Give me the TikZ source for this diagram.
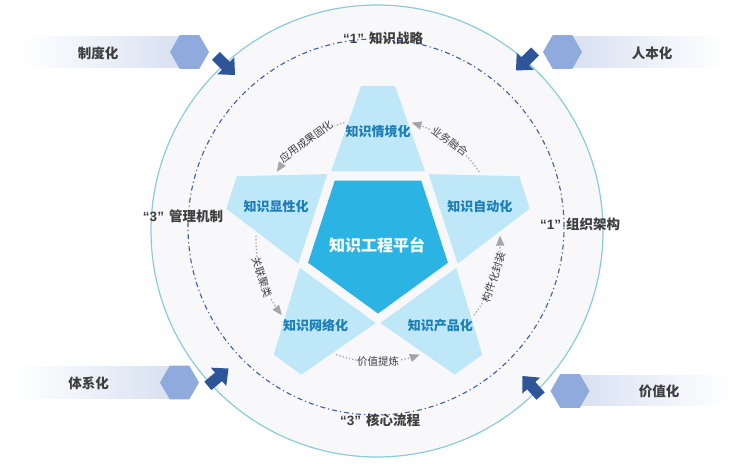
\documentclass[tikz,border=0pt]{standalone}
\usepackage{fontspec}
\setmainfont{Noto Sans CJK SC}
\newfontfamily\quotefont{Liberation Sans}
\usepackage{tikz}
\usetikzlibrary{arrows,calc}
\definecolor{ringteal}{HTML}{8BCCD8}
\definecolor{discbg}{HTML}{F8F8FA}
\definecolor{ringblue}{HTML}{3D5EAA}
\definecolor{armblue}{HTML}{BEE7F7}
\definecolor{coreblue}{HTML}{2BB3E3}
\definecolor{armtext}{HTML}{1D7EB5}
\definecolor{darktext}{HTML}{3F3F3F}
\definecolor{flowgray}{HTML}{A6A6A6}
\definecolor{hexblue}{HTML}{8FAADC}
\definecolor{bandblue}{HTML}{D6DFF1}
\definecolor{pushblue}{HTML}{2E5597}
\newcommand{\qn}[1]{{\quotefont “#1”}\hspace{5pt}}

\begin{document}
\begin{tikzpicture}[x=1pt,y=1pt,
     armlabel/.style={text=armtext,font=\fontsize{13}{14}\selectfont\bfseries},
     ringlabel/.style={text=darktext,font=\fontsize{13.5}{14}\selectfont\bfseries},
     sidelabel/.style={text=darktext,font=\fontsize{13.5}{14}\selectfont\bfseries},
     flowlabel/.style={text=darktext,font=\fontsize{10.5}{11}\selectfont,fill=discbg,inner sep=0.5pt},
     flow/.style={flowgray,line width=1.3pt,dotted,-triangle 45},
     hexa/.style={fill=hexblue},
     push/.style={fill=pushblue}]
     \useasboundingbox (0,0) rectangle (749,463);
     \coordinate (O) at (377,232);
     \coordinate (S) at (378,223);
     % outer disc and dash-dot ring
     \draw[ringteal,line width=1.2pt,fill=discbg] (O) circle (226);
     \draw[ringblue,line width=1.1pt,dash pattern=on 5pt off 3pt on 1.2pt off 3pt] (376,236) circle (188);
     \node[ringlabel] (zl) at (383,424.5) {\qn{1}知识战略};
     \node[ringlabel] (hx) at (380,42.5) {\qn{3}核心流程};
     \node[ringlabel] (gl) at (183,246.5) {\qn{3}管理机制};
     \node[ringlabel] (zz) at (580,239) {\qn{1}组织架构};
     % side bands
     \shade[left color=white,right color=bandblue] (20,395) rectangle (190,426);
     \shade[left color=bandblue,right color=white] (562,395) rectangle (725,426);
     \shade[left color=white,right color=bandblue] (15,64.5) rectangle (180,96.5);
     \shade[left color=bandblue,right color=white] (570,57) rectangle (729,87);
     \coordinate (h1) at (189.5,411);
     \coordinate (h2) at (562.5,411);
     \coordinate (h3) at (179.5,80.5);
     \coordinate (h4) at (570,72);
     \foreach \h in {h1,h2,h3,h4}
       \fill[hexa] (\h) +(0:19.5) -- +(60:19.5) -- +(120:19.5) -- +(180:19.5)
         -- +(240:19.5) -- +(300:19.5) -- cycle;
     \node[sidelabel] (zdh) at (98,410) {制度化};
     \node[sidelabel] (rbh) at (652,410) {人本化};
     \node[sidelabel] (txh) at (88.5,79.5) {体系化};
     \node[sidelabel] (jzh) at (659,71.5) {价值化};
     % block arrows towards the ring
     \foreach \x/\y/\r in {235/388/-45, 516/392.5/-135, 228.5/94.5/40, 522.5/87/132}
       \fill[push,shift={(\x,\y)},rotate=\r] (0,0) -- (-13,12) -- (-13,5.5) -- (-27,5.5)
         -- (-27,-5.5) -- (-13,-5.5) -- (-13,-12) -- cycle;
     % star arms and core
     \foreach \k in {0,...,4}
       \fill[armblue,shift={(S)},rotate=72*\k] (-47,68.5) -- (47,68.5) -- (17,154) -- (-17,154) -- cycle;
     \fill[coreblue,shift={(S)}] (270:73.5) -- (342:73.5) -- (54:73.5) -- (126:73.5) -- (198:73.5) -- cycle;
     \node[text=white,font=\fontsize{16}{17}\selectfont\bfseries] (core) at (377,218) {知识工程平台};
     \node[armlabel] (qjh) at ($(S)+(90:108)$) {知识情境化};
     \node[armlabel] (xxh) at ($(S)+(162:107)$) {知识显性化};
     \node[armlabel] (zdo) at ($(S)+(18:107)$) {知识自动化};
     \node[armlabel] (wlh) at ($(S)+(234:106)$) {知识网络化};
     \node[armlabel] (cph) at ($(S)+(306:106)$) {知识产品化};
     % dotted flows between the arms
     \foreach \a/\t/\r in {54/业务融合/-36, 126/应用成果固化/36, 198/关联聚类/-72,
         270/价值提炼/0, 342/构件化封装/72} {
       \coordinate (fs\a) at ($(S)+(\a-20:122)$);
       \draw[flow] (fs\a) arc[start angle=\a-20,end angle=\a+20,radius=122];
       \node[flowlabel,rotate=\r] (fl\a) at ($(S)+(\a:122)$) {\t};
     }
\end{tikzpicture}
\end{document}
